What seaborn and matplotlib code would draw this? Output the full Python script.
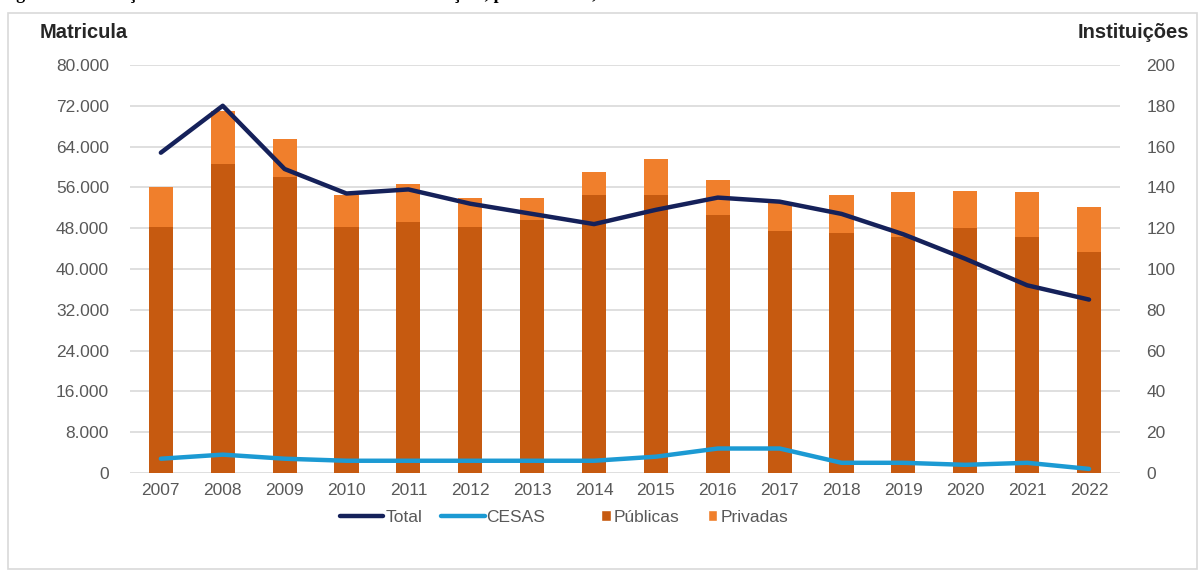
import numpy as np
import matplotlib
matplotlib.use("Agg")
import matplotlib.pyplot as plt
from matplotlib.lines import Line2D
from matplotlib.patches import Patch, Rectangle
from matplotlib.ticker import FuncFormatter, MultipleLocator
import seaborn as sns

# Enrolment (left axis) and number of institutions (right axis), 2007-2022
years = ["2007", "2008", "2009", "2010", "2011", "2012", "2013", "2014",
         "2015", "2016", "2017", "2018", "2019", "2020", "2021", "2022"]
publicas = [48300, 60600, 58100, 48300, 49300, 48300, 49600, 54500,
            54500, 50600, 47500, 47000, 46300, 48000, 46300, 43400]
privadas = [7700, 10400, 7400, 6200, 7400, 5600, 4400, 4600,
            7000, 6850, 5400, 7500, 8700, 7350, 8700, 8800]
total_inst = [157, 180, 149, 137, 139, 132, 127, 122,
              129, 135, 133, 127, 117, 105, 92, 85]
cesas_inst = [7, 9, 7, 6, 6, 6, 6, 6, 8, 12, 12, 5, 5, 4, 5, 2]

matricula_total = [p + q for p, q in zip(publicas, privadas)]

C_PUB = "#C65A10"
C_PRIV = "#F07F2C"
C_TOTAL = "#15215A"
C_CESAS = "#1C9AD3"
C_TICK = "#595959"
C_GRID = "#D9D9D9"
FS = 12.5

sns.set_theme(style="white")
plt.rcParams["font.family"] = ["Liberation Sans", "DejaVu Sans"]

fig = plt.figure(figsize=(12.03, 5.75), dpi=100)
ax = fig.add_axes([0.108, 0.1774, 0.823, 0.7096])

# stacked bars: full height in the private colour, public share on top of it
sns.barplot(x=years, y=matricula_total, color=C_PRIV, saturation=1,
            width=0.39, linewidth=0, ax=ax, zorder=2)
sns.barplot(x=years, y=publicas, color=C_PUB, saturation=1,
            width=0.39, linewidth=0, ax=ax, zorder=3)

ax.set_xlim(-0.5, len(years) - 0.5)
ax.set_ylim(0, 80000)
ax.yaxis.set_major_locator(MultipleLocator(8000))
ax.yaxis.set_major_formatter(FuncFormatter(lambda v, _: f"{int(v):,}".replace(",", ".")))
ax.grid(axis="y", color=C_GRID, linewidth=1.2)
ax.set_axisbelow(True)
ax.set_xlabel("")
ax.set_ylabel("")
for s in ax.spines.values():
    s.set_visible(False)
ax.tick_params(axis="both", length=0, labelsize=FS, labelcolor=C_TICK)
ax.tick_params(axis="y", pad=15)
ax.tick_params(axis="x", pad=7)

# institutions on the secondary axis
ax2 = ax.twinx()
xpos = np.arange(len(years))
sns.lineplot(x=xpos, y=total_inst, color=C_TOTAL, linewidth=3.2, ax=ax2)
sns.lineplot(x=xpos, y=cesas_inst, color=C_CESAS, linewidth=3.2, ax=ax2)
ax2.set_ylim(0, 200)
ax2.yaxis.set_major_locator(MultipleLocator(20))
ax2.set_xlim(-0.5, len(years) - 0.5)
ax2.set_ylabel("")
ax2.grid(False)
for s in ax2.spines.values():
    s.set_visible(False)
ax2.tick_params(axis="y", length=0, labelsize=FS, labelcolor=C_TICK, pad=19)

# axis titles
fig.text(40 / 1203, 1 - 33 / 575, "Matricula", fontsize=14.5, fontweight="bold",
         color="#262626", ha="left", va="center")
fig.text(1189 / 1203, 1 - 33 / 575, "Instituições", fontsize=14.5, fontweight="bold",
         color="#262626", ha="right", va="center")

# legend: line series, then the bar series with small square keys
line_handles = [Line2D([], [], color=C_TOTAL, linewidth=3.2),
                Line2D([], [], color=C_CESAS, linewidth=3.2)]
bar_handles = [Patch(facecolor=C_PUB), Patch(facecolor=C_PRIV)]
y_leg = 1 - 517 / 575
leg1 = fig.legend(line_handles, ["Total", "CESAS"], loc="center left",
                  bbox_to_anchor=(340 / 1203, y_leg), ncol=2, frameon=False,
                  fontsize=FS, handlelength=2.5, handletextpad=0.1,
                  columnspacing=1.1, borderaxespad=0, borderpad=0)
leg2 = fig.legend(bar_handles, ["Públicas", "Privadas"], loc="center left",
                  bbox_to_anchor=(601 / 1203, y_leg), ncol=2, frameon=False,
                  fontsize=FS, handlelength=0.55, handleheight=0.55,
                  handletextpad=0.2, columnspacing=1.6, borderaxespad=0, borderpad=0)
for lg in (leg1, leg2):
    for t in lg.get_texts():
        t.set_color(C_TICK)

# chart border
fig.patches.append(Rectangle((8 / 1203, 1 - 569 / 575), 1189 / 1203, 556 / 575,
                             transform=fig.transFigure, fill=False,
                             edgecolor="#D9D9D9", linewidth=1.2))

# caption line above the chart box (only its lowest strokes fall inside the image)
fig.text(0.0, 1.0 + 1.5 / 575, "Figura 4 – Evolução das matrículas e do número de instituições, por natureza, 2007-2022",
         family=["Liberation Serif", "DejaVu Serif"], fontsize=13, fontweight="bold",
         color="black", ha="left", va="baseline")

fig.savefig("out.png", dpi=100)
